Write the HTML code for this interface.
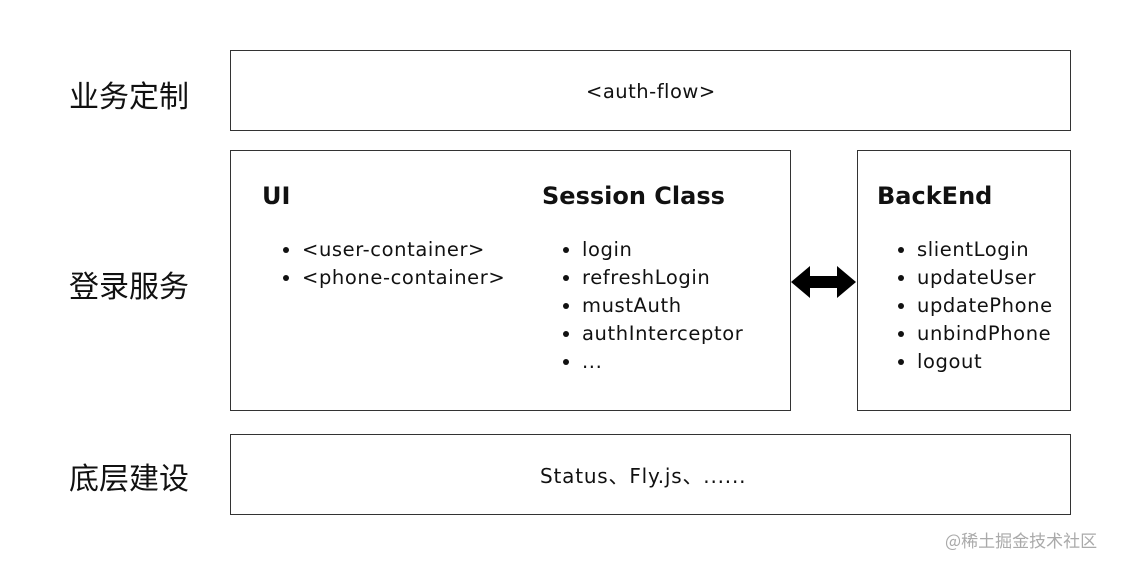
<!DOCTYPE html>
<html><head><meta charset="utf-8"><style>
html,body{margin:0;padding:0;background:#fff;}
body{width:1122px;height:565px;position:relative;overflow:hidden;font-family:"DejaVu Sans","Liberation Sans","Noto Sans CJK SC",sans-serif;color:#111;}
.box{position:absolute;border:1.5px solid #333;box-sizing:border-box;}
.t{position:absolute;white-space:nowrap;}
.cn{font-family:"Noto Sans CJK SC","WenQuanYi Zen Hei",sans-serif;font-size:30px;left:69px;}
.h{font-weight:bold;font-size:24px;}
ul{position:absolute;margin:0;padding:0 0 0 22px;font-size:19.5px;line-height:28px;list-style:disc;letter-spacing:0.6px;}
</style></head><body>
<div class="box" style="left:230px;top:50px;width:841px;height:81px"></div>
<div class="box" style="left:230px;top:150px;width:561px;height:261px"></div>
<div class="box" style="left:857px;top:150px;width:214px;height:261px"></div>
<div class="box" style="left:230px;top:434px;width:841px;height:81px"></div>

<div class="t cn" style="top:72px">业务定制</div>
<div class="t cn" style="top:262px">登录服务</div>
<div class="t cn" style="top:454px">底层建设</div>

<div class="t" style="left:586px;top:80px;font-size:19.5px;letter-spacing:0.5px">&lt;auth-flow&gt;</div>

<div class="t h" style="left:262px;top:182px">UI</div>
<div class="t h" style="left:542px;top:182px">Session Class</div>
<div class="t h" style="left:877px;top:182px">BackEnd</div>

<ul style="left:280px;top:236px"><li>&lt;user-container&gt;</li><li>&lt;phone-container&gt;</li></ul>
<ul style="left:560px;top:236px"><li>login</li><li>refreshLogin</li><li>mustAuth</li><li>authInterceptor</li><li>...</li></ul>
<ul style="left:895px;top:236px"><li>slientLogin</li><li>updateUser</li><li>updatePhone</li><li>unbindPhone</li><li>logout</li></ul>

<svg style="position:absolute;left:790px;top:264px" width="68" height="36">
<polygon points="1,18 20,2 20,12 47,12 47,2 66,18 47,34 47,24 20,24 20,34" fill="#000"/>
</svg>

<div class="t" style="left:540px;top:460px;font-size:20px;letter-spacing:0.8px">Status、Fly.js、......</div>
<div class="t" style="left:945px;top:527px;font-size:17px;color:#aaa;font-family:'Noto Sans CJK SC',sans-serif">@稀土掘金技术社区</div>
</body></html>
